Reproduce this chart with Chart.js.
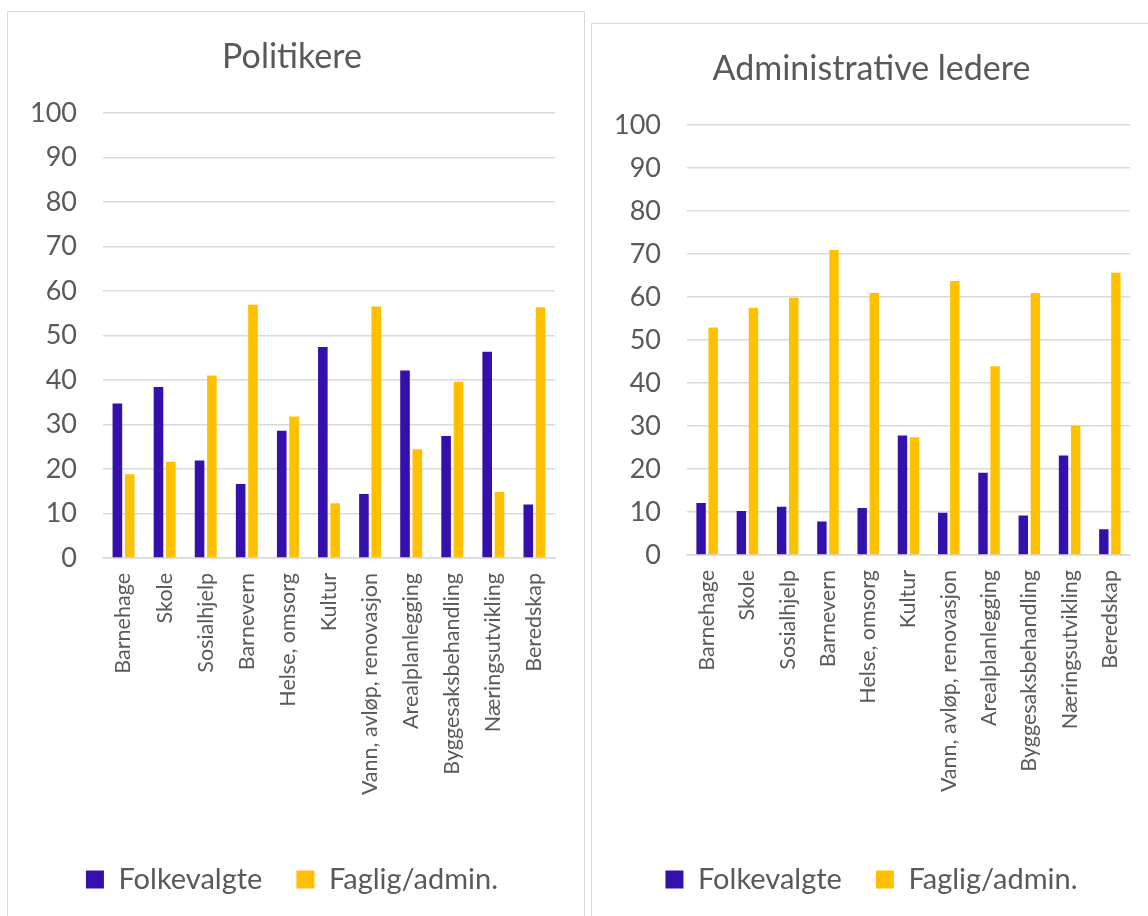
<!DOCTYPE html>
<html>
<head>
<meta charset="utf-8">
<script src="https://cdn.jsdelivr.net/npm/chart.js@4.4.1/dist/chart.umd.min.js"></script>
<style>
    body { margin: 0; background: #fff; width: 1148px; height: 916px; overflow: hidden; position: relative; }
    .panel { position: absolute; border: 1.5px solid #d9d9d9; box-sizing: border-box; background: #fff; }
    #p1 { left: 7px; top: 11px; width: 578px; height: 940px; }
    #p2 { left: 591px; top: 23px; width: 600px; height: 940px; }
    canvas { position: absolute; }
    #c1 { left: 1px; top: 1px; }
    #c2 { left: 1px; top: 1px; }
</style>
</head>
<body>
<div class="panel" id="p1"><canvas id="c1" width="574" height="903"></canvas></div>
<div class="panel" id="p2"><canvas id="c2" width="555" height="891"></canvas></div>
<script>
// categories shared by both charts
const categories = ['Barnehage', 'Skole', 'Sosialhjelp', 'Barnevern', 'Helse, omsorg', 'Kultur',
    'Vann, avløp, renovasjon', 'Arealplanlegging', 'Byggesaksbehandling', 'Næringsutvikling', 'Beredskap'];
const seriesNames = ['Folkevalgte', 'Faglig/admin.'];

// Politikere
const polFolkevalgte = [34.7, 38.4, 21.9, 16.6, 28.6, 47.4, 14.4, 42.1, 27.4, 46.3, 12.0];
const polFaglig = [18.8, 21.6, 41.0, 56.9, 31.8, 12.3, 56.5, 24.4, 39.6, 14.8, 56.3];

// Administrative ledere
const admFolkevalgte = [12.1, 10.2, 11.2, 7.8, 10.9, 27.8, 9.8, 19.1, 9.2, 23.1, 6.0];
const admFaglig = [52.9, 57.5, 59.8, 70.9, 60.9, 27.4, 63.7, 43.9, 60.9, 30.1, 65.6];

const yMin = 0, yMax = 100, yStep = 10;

const purple = '#3610ac';
const yellow = '#ffc000';
const textGrey = '#595959';
const gridGrey = '#d9d9d9';
const fontFamily = 'Lato, "Open Sans", sans-serif';

function makeChart(id, title, folk, faglig, lay) {
    const ctx = document.getElementById(id).getContext('2d');
    return new Chart(ctx, {
        type: 'bar',
        data: {
            labels: categories,
            datasets: [
                { label: seriesNames[0], data: folk, backgroundColor: purple },
                { label: seriesNames[1], data: faglig, backgroundColor: yellow }
            ]
        },
        options: {
            responsive: false,
            animation: false,
            categoryPercentage: 0.6,
            barPercentage: 0.78,
            layout: { padding: { left: lay.left, right: lay.right, top: 0, bottom: lay.bottom } },
            plugins: {
                title: {
                    display: true,
                    text: title,
                    color: textGrey,
                    font: { family: fontFamily, size: 34, weight: 'normal' },
                    padding: { top: lay.titleTop, bottom: lay.titleBottom }
                },
                legend: {
                    position: 'bottom',
                    labels: {
                        color: textGrey,
                        font: { family: fontFamily, size: 29 },
                        boxWidth: 18,
                        boxHeight: 18,
                        padding: 34
                    }
                },
                tooltip: { enabled: false }
            },
            scales: {
                x: {
                    grid: { display: false },
                    border: { color: gridGrey, width: 1.5 },
                    ticks: {
                        color: textGrey,
                        font: { family: fontFamily, size: 21.5 },
                        minRotation: 90,
                        maxRotation: 90,
                        autoSkip: false,
                        padding: 7
                    },
                    afterFit: function(scale) { scale.height = lay.xHeight; }
                },
                y: {
                    min: yMin,
                    max: yMax,
                    grid: { color: gridGrey, lineWidth: 1.5, drawTicks: false },
                    border: { display: false },
                    ticks: {
                        stepSize: yStep,
                        color: textGrey,
                        font: { family: fontFamily, size: 27 },
                        padding: 26
                    },
                    afterFit: function(scale) { scale.width = lay.yWidth; }
                }
            }
        }
    });
}

makeChart('c1', 'Politikere', polFolkevalgte, polFaglig,
    { left: 20, right: 28, bottom: 12, titleTop: 24, titleBottom: 35, xHeight: 273, yWidth: 74 });
makeChart('c2', 'Administrative ledere', admFolkevalgte, admFaglig,
    { left: 20, right: 18, bottom: 12, titleTop: 24, titleBottom: 35, xHeight: 276, yWidth: 74 });
</script>
</body>
</html>
